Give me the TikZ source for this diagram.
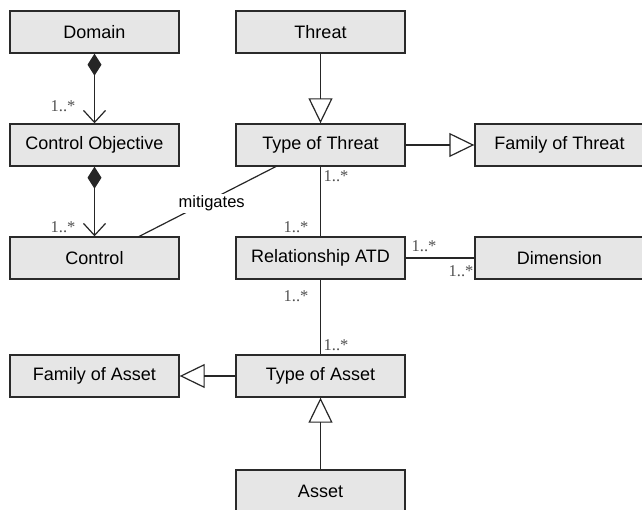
\documentclass[tikz,border=0pt]{standalone}
\usepackage{fontspec}
\setmainfont{Liberation Sans}
\newfontfamily\multfont{Liberation Serif}
\usetikzlibrary{arrows.meta}
\definecolor{boxfill}{HTML}{E6E6E6}
\definecolor{boxline}{HTML}{2A2A2A}
\definecolor{multcol}{HTML}{505050}
\begin{document}
\begin{tikzpicture}[x=1pt,y=-1pt,
  cls/.style={draw=boxline, fill=boxfill, line width=1.4pt, minimum width=169pt, minimum height=42pt, inner sep=0pt, font=\fontsize{18}{20}\selectfont},
  conn/.style={draw=black!85, line width=1.2pt},
  mult/.style={font=\multfont\fontsize{16.5}{18}\selectfont, text=multcol, inner sep=0pt},
  gen/.style={conn, -{Triangle[open, length=25pt, width=24pt, line width=1.2pt]}},
  comp/.style={conn, {Diamond[length=22pt, width=14pt]}-{Straight Barb[length=12pt, width=22pt, line width=1.2pt]}}
]
\useasboundingbox (0,0) rectangle (642,510);
% classes
\node[cls] (dom)  at (94.5,32)  {Domain};
\node[cls] (co)   at (94.5,145) {Control Objective};
\node[cls] (ctrl) at (94.5,258) {Control};
\node[cls] (thr)  at (320.5,32)  {Threat};
\node[cls] (tot)  at (320.5,145) {Type of Threat};
\node[cls] (fot)  at (559.5,145) {Family of Threat};
\node[cls] (ratd) at (320.5,258) {Relationship ATD};
\node[cls] (dim)  at (559.5,258) {Dimension};
\node[cls] (foa)  at (94.5,376) {Family of Asset};
\node[cls] (toa)  at (320.5,376) {Type of Asset};
\node[cls] (ast)  at (320.5,491) {Asset};
% composition
\draw[comp] (dom) -- (co);
\draw[comp] (co) -- (ctrl);
\node[mult] (m1) at (63,106) {1..*};
\node[mult] (m2) at (63,227) {1..*};
% generalisations
\draw[gen] (thr) -- (tot);
\draw[gen] (tot) -- (fot);
\draw[gen] (toa) -- (foa);
\draw[gen] (ast) -- (toa);
% associations
\draw[conn] (tot) -- (ratd);
\node[mult] (m3) at (336,176) {1..*};
\node[mult] (m4) at (296,227) {1..*};
\draw[conn] (ratd) -- (dim);
\node[mult] (m5) at (424,246) {1..*};
\node[mult] (m6) at (461,271) {1..*};
\draw[conn] (ratd) -- (toa);
\node[mult] (m7) at (296,296) {1..*};
\node[mult] (m8) at (336,345) {1..*};
% mitigates
\coordinate (ma) at (138,237);
\coordinate (mb) at (277,166);
\draw[conn] (ma) -- node[pos=0.53, yshift=-4pt, fill=white, inner sep=1.5pt, font=\fontsize{16.5}{18}\selectfont] (mit) {mitigates} (mb);
\end{tikzpicture}
\end{document}
